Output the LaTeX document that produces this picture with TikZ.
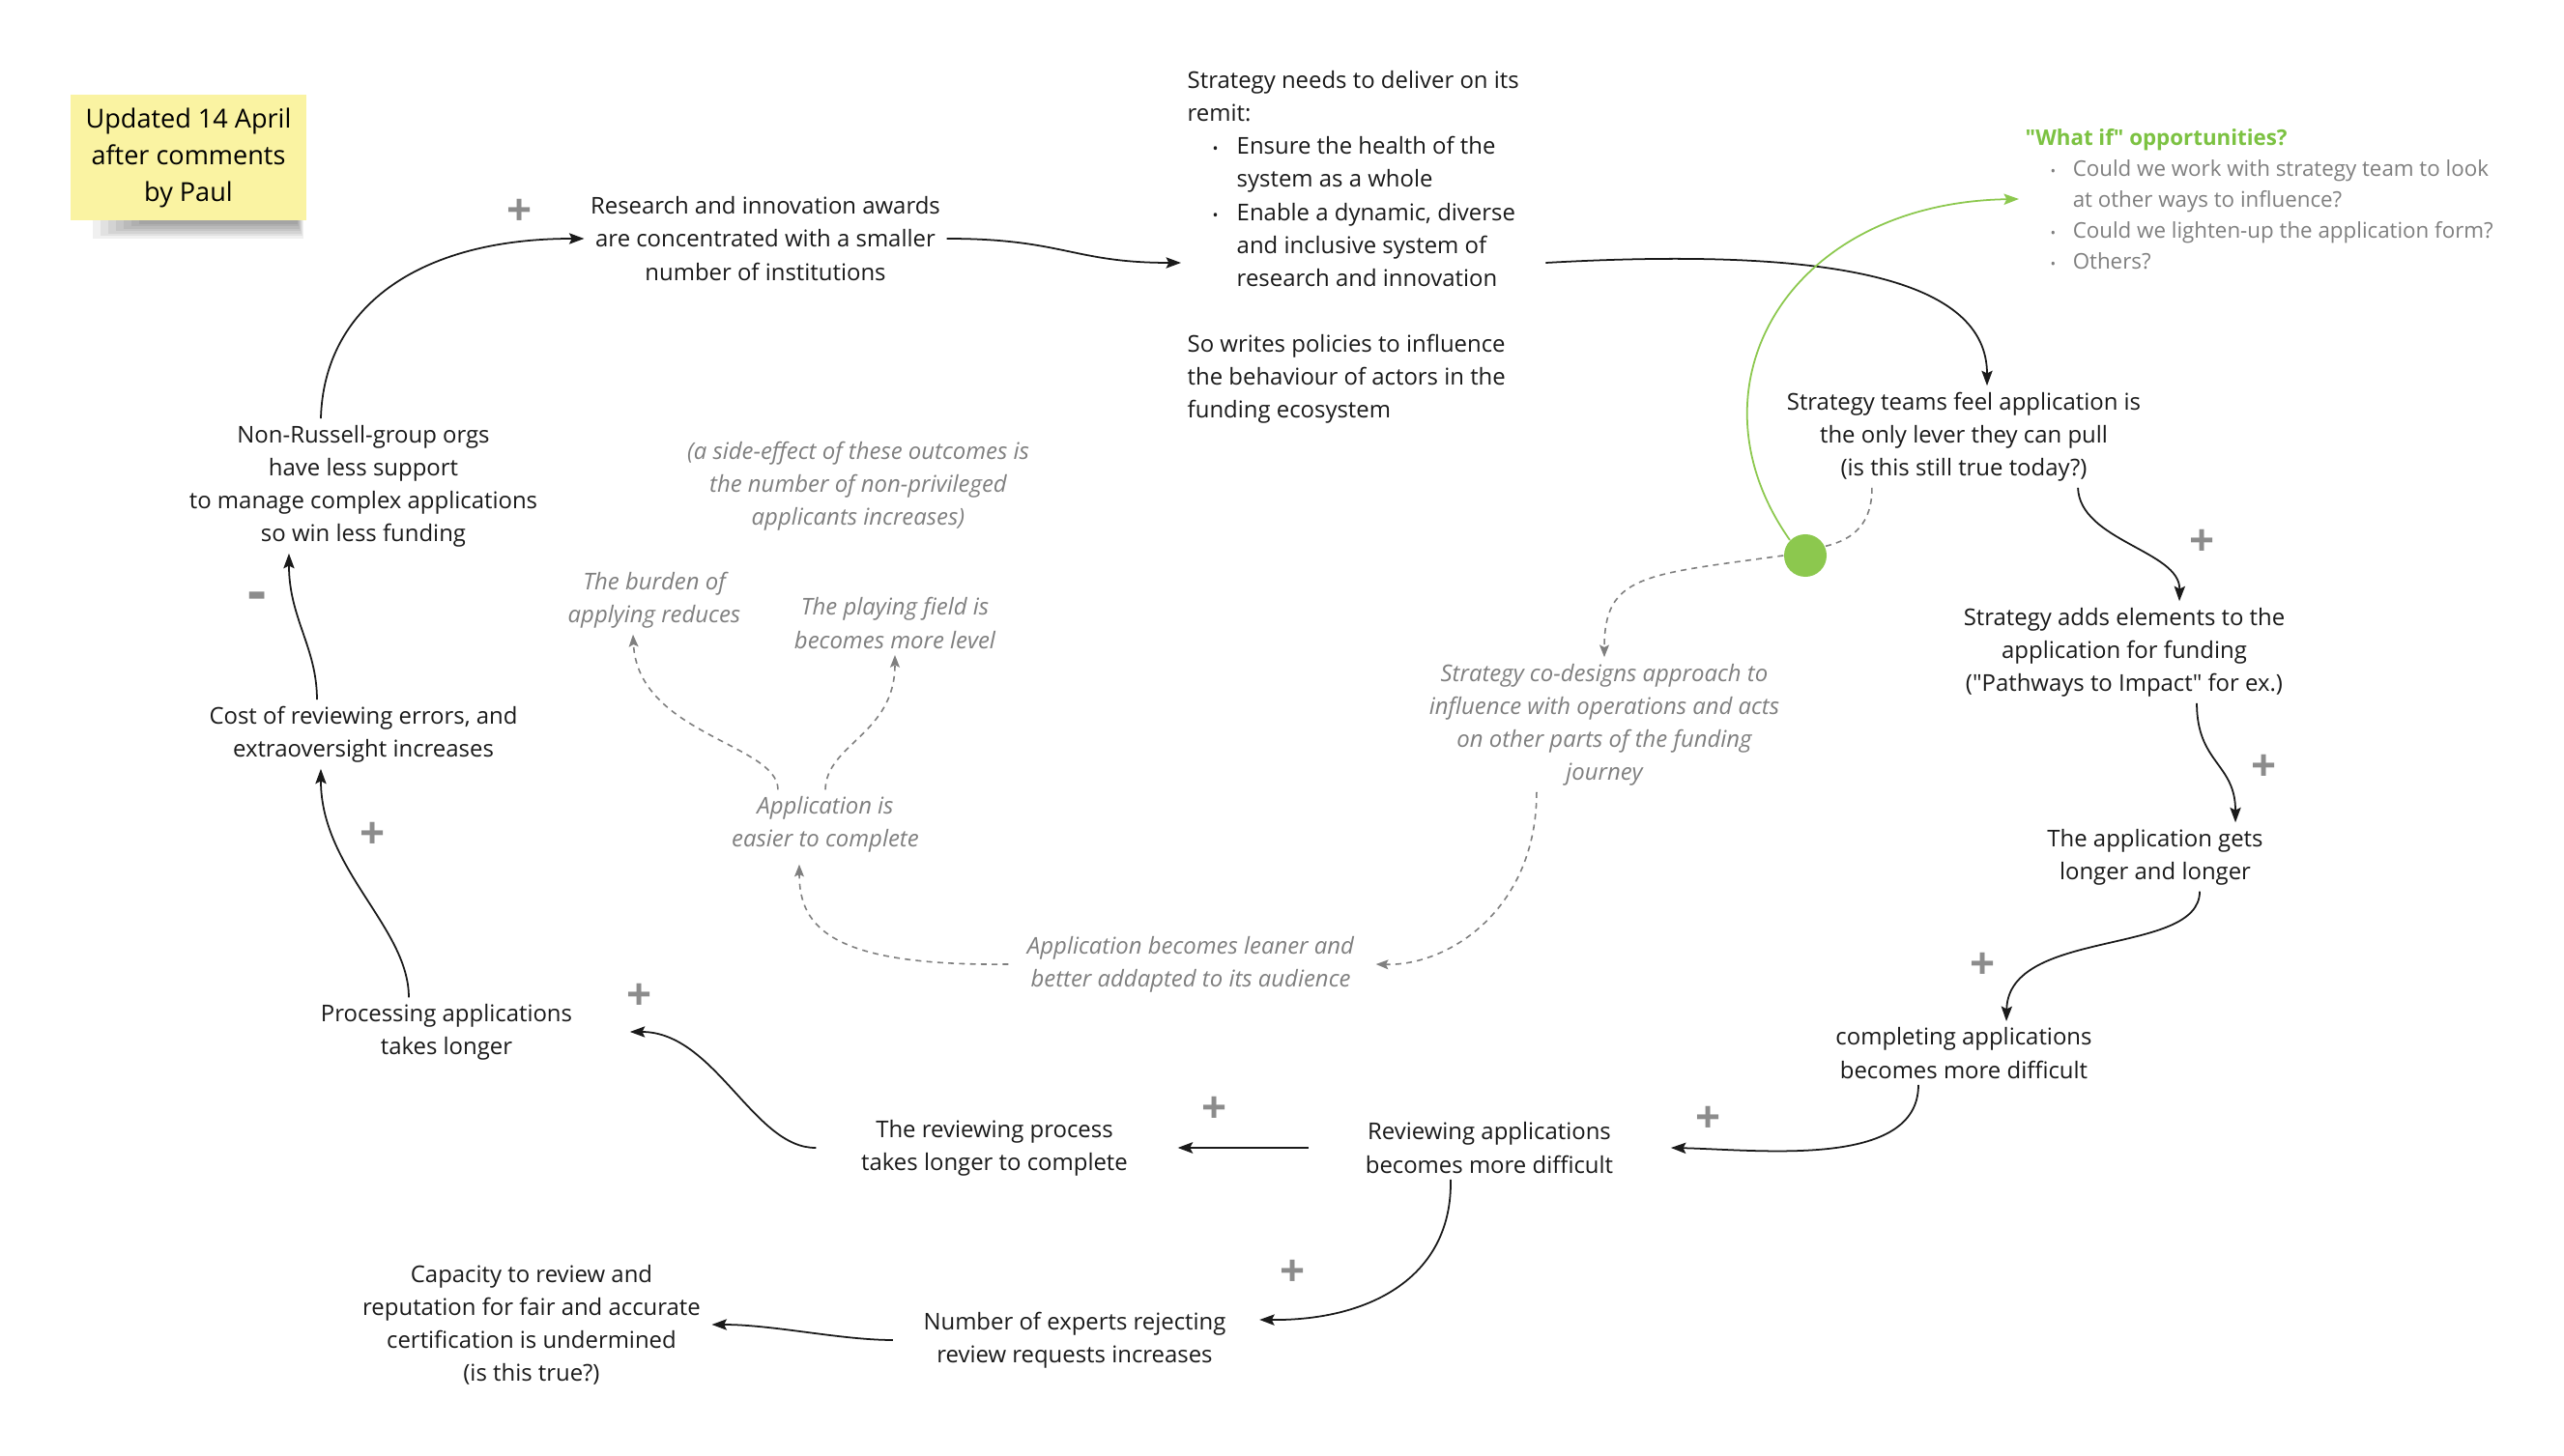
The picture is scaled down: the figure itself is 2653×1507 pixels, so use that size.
\documentclass[tikz,border=0pt]{standalone}
\usepackage{fontspec}
\setmainfont{Open Sans}
\usetikzlibrary{shapes,arrows.meta}

\definecolor{notefill}{HTML}{FAF3A2}
\definecolor{leafgreen}{HTML}{8CC84E}
\definecolor{titlegreen}{HTML}{7CC242}
\definecolor{ideagrey}{HTML}{7F7F7F}
\definecolor{signgrey}{HTML}{8C8C8C}
\definecolor{inkblack}{HTML}{1A1A1A}

\newcommand{\remitdot}{\makebox[0.51cm][l]{\hspace{0.26cm}{\fontsize{4.5}{4.5}\selectfont\textbullet}}}
\newcommand{\remitpad}{\hspace*{0.51cm}}
\newcommand{\whatifdot}{\makebox[0.49cm][l]{\hspace{0.26cm}{\fontsize{4.2}{4.2}\selectfont\textbullet}}}
\newcommand{\whatifpad}{\hspace*{0.49cm}}

\begin{document}
\begin{tikzpicture}[x=0.01cm, y=-0.01cm, >={Stealth[length=4.4pt,width=3.2pt,inset=0.8pt]}]
	%define block styles
	\tikzset{
		factor/.style={align=center, inner sep=0.06cm, text=inkblack, font=\fontsize{6.8}{9.7}\selectfont},
		idea/.style={factor, text=ideagrey, font=\fontsize{6.8}{9.7}\selectfont\itshape},
		postit/.style={rectangle, fill=notefill, minimum width=2.43cm, minimum height=1.30cm, align=center, font=\fontsize{7.7}{10.8}\selectfont},
		knot/.style={circle, fill=leafgreen, minimum size=0.44cm, inner sep=0},
		sign/.style={text=signgrey, inner sep=0, font=\fontsize{13}{13}\selectfont\bfseries},
		link/.style={->, line width=0.5pt, inkblack},
		hint/.style={->, line width=0.45pt, ideagrey, dash pattern=on 1.7pt off 1.5pt, >={Stealth[length=3.6pt,width=2.8pt,inset=0.7pt]}},
		whatiflink/.style={->, line width=0.5pt, leafgreen},
	}
	\fill[white] (0,0) rectangle (2653,1507);
	\useasboundingbox (0,0) rectangle (2653,1507);
	%soft shadow under the post-it
	\foreach \k in {0,...,6}
		\fill[black, opacity=0.06] (96+8*\k,222) rectangle (314-\k,247-2.5*\k);
	%define nodes
	\node[postit](note) at (195,163) {Updated 14 April\\after comments\\by Paul};
	\node[factor](awards) at (792,247) {Research and innovation awards\\are concentrated with a smaller\\number of institutions};
	\node[factor, align=left, anchor=west](remit) at (1222,256) {Strategy needs to deliver on its\\remit:\\\remitdot Ensure the health of the\\\remitpad system as a whole\\\remitdot Enable a dynamic, diverse\\\remitpad and inclusive system of\\\remitpad research and innovation\\[9.7pt]So writes policies to influence\\the behaviour of actors in the\\funding ecosystem};
	\node[factor, align=left, anchor=west, text=ideagrey, font=\fontsize{6.35}{9.1}\selectfont](whatif) at (2089,206) {\textcolor{titlegreen}{\bfseries \textquotedbl What if\textquotedbl{} opportunities?}\\\whatifdot Could we work with strategy team to look\\\whatifpad at other ways to influence?\\\whatifdot Could we lighten-up the application form?\\\whatifdot Others?};
	\node[factor](teams) at (2032,452) {Strategy teams feel application is\\the only lever they can pull\\(is this still true today?)};
	\node[factor](adds) at (2198,675) {Strategy adds elements to the\\application for funding\\(\textquotedbl Pathways to Impact\textquotedbl{} for ex.)};
	\node[factor](longer) at (2230,887) {The application gets\\longer and longer};
	\node[factor](completing) at (2032,1090) {completing applications\\becomes more difficult};
	\node[factor](reviewing) at (1541,1188) {Reviewing applications\\becomes more difficult};
	\node[factor](revprocess) at (1029,1188) {The reviewing process\\takes longer to complete};
	\node[factor](processing) at (462,1068) {Processing applications\\takes longer};
	\node[factor](cost) at (376,760) {Cost of reviewing errors, and\\extraoversight increases};
	\node[factor](nonrussell) at (376,503) {Non-Russell-group orgs\\have less support\\to manage complex applications\\so win less funding};
	\node[factor](experts) at (1112,1387) {Number of experts rejecting\\review requests increases};
	\node[factor](capacity) at (550,1371) {Capacity to review and\\reputation for fair and accurate\\certification is undermined\\(is this true?)};
	\node[idea](sideeffect) at (888,503) {(a side-effect of these outcomes is\\the number of non-privileged\\applicants increases)};
	\node[idea](burden) at (677,621) {The burden of\\applying reduces};
	\node[idea](level) at (926,645) {The playing field is\\becomes more level};
	\node[idea](easier) at (854,853) {Application is\\easier to complete};
	\node[idea](leaner) at (1232,998) {Application becomes leaner and\\better addapted to its audience};
	\node[idea](codesign) at (1660,750) {Strategy co-designs approach to\\influence with operations and acts\\on other parts of the funding\\journey};
	\node[knot](dot) at (1868,575) {};
	%polarity signs
	\node[sign](s1) at (538,220) {+};
	\node[sign, font=\fontsize{17}{17}\selectfont\bfseries](s2) at (266,623) {-};
	\node[sign](s3) at (386,865) {+};
	\node[sign](s4) at (662,1032) {+};
	\node[sign](s5) at (1257,1149) {+};
	\node[sign](s6) at (1768,1159) {+};
	\node[sign](s7) at (1338,1318) {+};
	\node[sign](s8) at (2052,1000) {+};
	\node[sign](s9) at (2343,795) {+};
	\node[sign](s10) at (2279,562) {+};
	%define arrows
	\draw[link] ([xshift=-0.44cm]nonrussell.north) .. controls (335,320) and (430,247) .. (awards.west);
	\draw[link] (awards.east) .. controls (1100,247) and (1110,272) .. ([yshift=-0.16cm]remit.west);
	\draw[link] ([xshift=0.21cm,yshift=-0.16cm]remit.east) .. controls (1900,255) and (2056,290) .. ([xshift=0.24cm]teams.north);
	\draw[link] ([xshift=1.18cm]teams.south) .. controls (2152,560) and (2256,570) .. ([xshift=0.57cm]adds.north);
	\draw[link] ([xshift=0.75cm]adds.south) .. controls (2273,790) and (2313,790) .. ([xshift=0.83cm]longer.north);
	\draw[link] ([xshift=0.46cm]longer.south) .. controls (2276,990) and (2078,960) .. ([xshift=0.44cm]completing.north);
	\draw[link] ([xshift=-0.47cm]completing.south) .. controls (1985,1210) and (1820,1190) .. ([xshift=0.53cm]reviewing.east);
	\draw[link, line width=0.8pt] ([xshift=-0.52cm]reviewing.west) -- ([xshift=0.45cm]revprocess.east);
	\draw[link] ([xshift=-0.4cm]revprocess.west) .. controls (780,1189) and (740,1068) .. ([xshift=0.53cm]processing.east);
	\draw[link] ([xshift=-0.39cm]processing.north) .. controls (423,960) and (332,900) .. ([xshift=-0.44cm]cost.south);
	\draw[link] ([xshift=-0.48cm]cost.north) .. controls (328,670) and (299,640) .. ([xshift=-0.77cm]nonrussell.south);
	\draw[link] ([xshift=-0.4cm]reviewing.south) .. controls (1503,1320) and (1420,1367) .. ([xshift=0.28cm,yshift=0.21cm]experts.east);
	\draw[link] ([xshift=-0.25cm]experts.west) .. controls (870,1387) and (800,1371) .. ([xshift=0.05cm]capacity.east);
	\draw[hint, -] ([xshift=-0.95cm]teams.south) .. controls (1937,540) and (1920,558) .. (dot.25);
	\draw[hint] (dot.west) .. controls (1700,595) and (1660,595) .. (codesign.north);
	\draw[hint] ([xshift=-0.7cm]codesign.south) .. controls (1590,940) and (1500,1000) .. ([xshift=0.16cm]leaner.east);
	\draw[hint] ([xshift=-0.13cm]leaner.west) .. controls (860,1000) and (827,960) .. ([xshift=-0.27cm,yshift=-0.06cm]easier.south);
	\draw[hint] ([xshift=-0.49cm]easier.north) .. controls (805,770) and (660,760) .. ([xshift=-0.22cm]burden.south);
	\draw[hint] (easier.north) .. controls (855,770) and (926,760) .. (level.south);
	\draw[whatiflink] (dot.north west) .. controls (1740,400) and (1850,210) .. (whatif.west);
\end{tikzpicture}
\end{document}
